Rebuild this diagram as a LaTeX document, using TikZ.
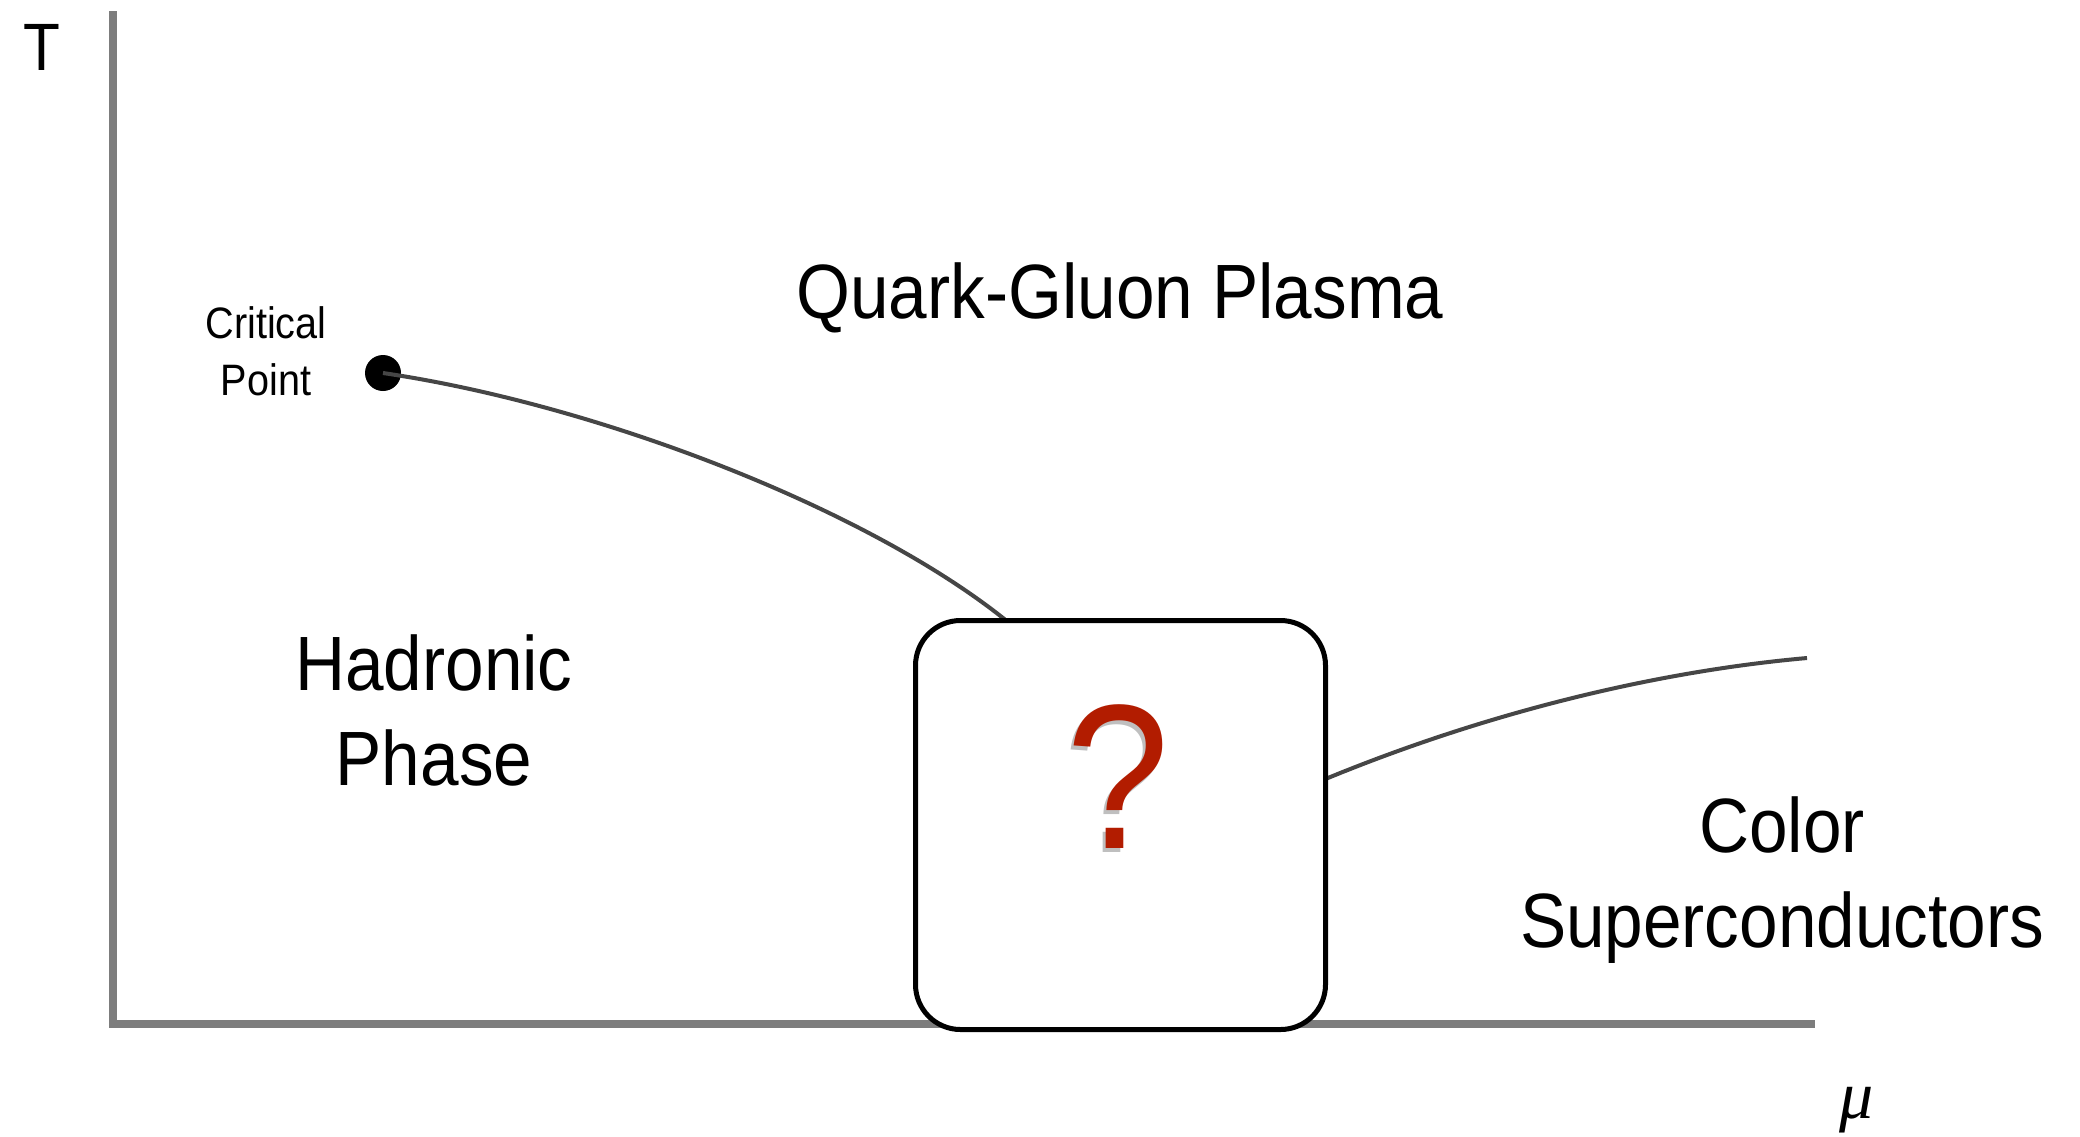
\documentclass[tikz,border=0pt]{standalone}
\usepackage{fontspec}
\setmainfont{Liberation Sans}[FakeStretch=0.9]
\newfontfamily\mufont{Liberation Serif}
\definecolor{axisgray}{RGB}{125,125,125}
\definecolor{curvegray}{RGB}{70,70,70}
\definecolor{qred}{RGB}{178,28,0}
\begin{document}
\begin{tikzpicture}[x=0.5pt,y=-0.5pt,
  axis/.style={draw=axisgray,line width=4pt},
  phaseline/.style={draw=curvegray,line width=2pt},
  lbl/.style={font=\fontsize{38.5}{47.5}\selectfont,align=center,anchor=base,inner sep=0pt},
  smalllbl/.style={font=\fontsize{22}{28.5}\selectfont,align=center,anchor=base,inner sep=0pt},
  qbox/.style={draw=black,line width=2.5pt,rounded corners=22.5pt,fill=white,
    minimum width=205pt,minimum height=204.5pt,inner sep=0pt}]
\useasboundingbox[fill=white] (0,0) rectangle (2080,1136);
% axes
\coordinate (ytop) at (113,11);
\coordinate (origin) at (113,1024);
\coordinate (xend) at (1815,1024);
\draw[axis] (ytop) -- (origin) -- (xend);
% critical point
\node[circle,fill=black,minimum size=18pt,inner sep=0pt] (cp) at (383,373) {};
% phase lines
\coordinate (c1end) at (1008,622);
\coordinate (c2start) at (1323,780);
\coordinate (c2end) at (1807,658);
\draw[phaseline] (cp.center) .. controls (600,405) and (870,510) .. (c1end);
\draw[phaseline] (c2start) .. controls (1480,715) and (1650,672) .. (c2end);
% box
\node[qbox] (box) at (1120.5,825) {};
\node[font=\fontsize{103}{103}\selectfont,text=black,opacity=0.25,anchor=base,inner sep=0pt] (qshadow) at (1115,852) {?};
\node[font=\fontsize{103}{103}\selectfont,text=qred,anchor=base,inner sep=0pt] (q) at (1118,848) {?};
% labels
\node[font=\fontsize{33.5}{33.5}\selectfont,anchor=base,inner sep=0pt] (T) at (42,70) {T};
\node[font=\mufont\itshape\fontsize{34}{34}\selectfont,anchor=base,inner sep=0pt] (mu) at (1857,1118) {μ};
\node[smalllbl] (crit) at (266,395) {Critical\\Point};
\node[lbl] (qgp) at (1120,318) {Quark-Gluon Plasma};
\node[lbl] (hadron) at (434,785) {Hadronic\\Phase};
\node[lbl] (csc) at (1782,947) {Color\\Superconductors};
\end{tikzpicture}
\end{document}
